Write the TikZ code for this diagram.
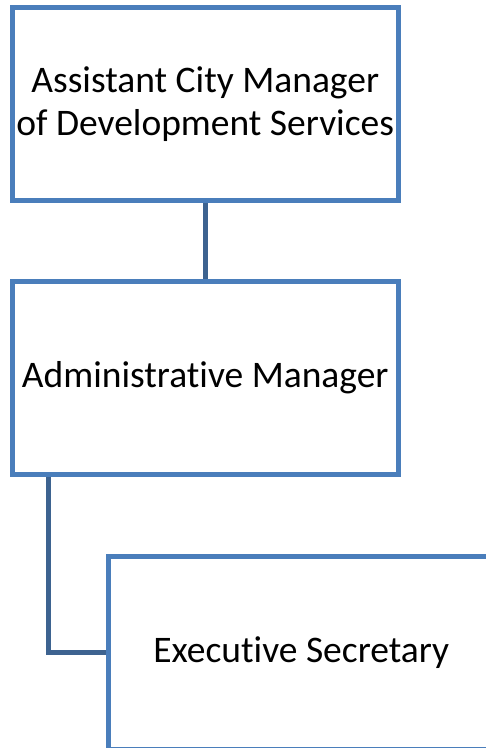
\documentclass[tikz,border=0pt]{standalone}
\usepackage{fontspec}
\setmainfont{Carlito}[RawFeature={-liga}]
\usetikzlibrary{calc}
\definecolor{boxblue}{HTML}{4A7EBB}
\definecolor{linkblue}{HTML}{3D6390}
\tikzset{
  orgbox/.style={draw=boxblue, line width=5pt, fill=white, rectangle, inner sep=0pt,
    minimum width=385.5pt, minimum height=193pt, align=center,
    font=\fontsize{37.5}{42.5}\selectfont},
  link/.style={draw=linkblue, line width=5pt}
}
\begin{document}
\begin{tikzpicture}[x=1pt,y=-1pt]
\useasboundingbox (0,0) rectangle (486,748);
\begin{scope}
\clip (0,0) rectangle (486,748);
\node[orgbox] (b1) at (205.25,104) {Assistant City Manager\\of Development Services};
\node[orgbox] (b2) at (205.25,377.75) {Administrative Manager};
\node[orgbox] (b3) at (301.25,652.5) {Executive Secretary};
\coordinate (c1) at ($(b2.south west)+(38,0)$);
\draw[link] (b1.south) -- (b2.north);
\draw[link] (c1) |- (b3.west);
\end{scope}
\end{tikzpicture}
\end{document}
